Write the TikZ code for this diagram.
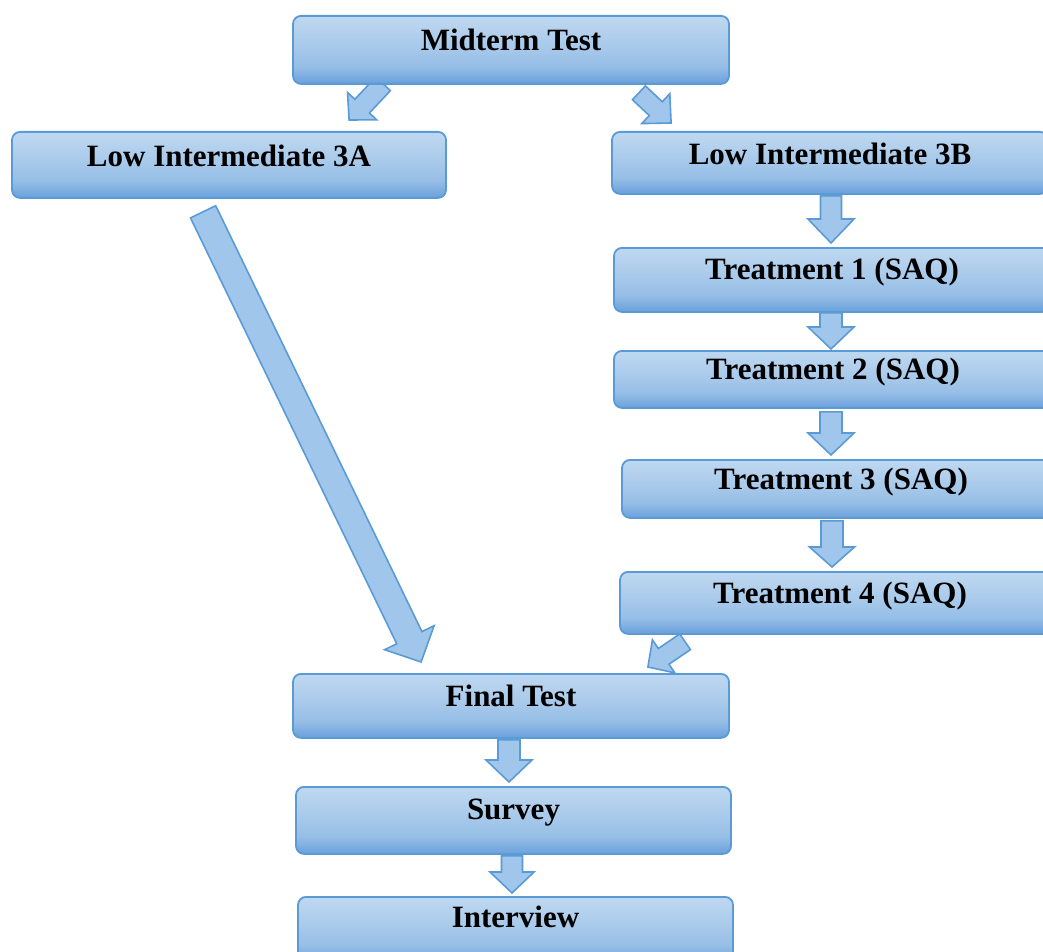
\documentclass[tikz,border=0pt]{standalone}
\usepackage{fontspec}
\setmainfont{Liberation Serif}
\usetikzlibrary{calc}
\pgfdeclarelayer{background}
\pgfsetlayers{background,main}
\definecolor{boxborder}{RGB}{91,155,213}
\definecolor{boxtop}{RGB}{190,216,240}
\definecolor{boxlight}{RGB}{174,205,236}
\definecolor{boxmid}{RGB}{150,190,230}
\definecolor{boxbot}{RGB}{105,160,220}
\definecolor{arrfill}{RGB}{160,198,236}
\pgfdeclareverticalshading{boxshade}{100bp}{color(0bp)=(boxbot); color(25bp)=(boxbot); color(38bp)=(boxmid); color(58bp)=(boxlight); color(75bp)=(boxtop); color(100bp)=(boxtop)}
\newcommand\blockarrow[5]{%
  \coordinate (bahead) at ($(#2)!#5!(#1)$);
  \draw[blockarr] ($(#1)!#3!90:(#2)$) -- ($(bahead)!#3!90:(#2)$) -- ($(bahead)!#4!90:(#2)$) -- (#2)
    -- ($(bahead)!#4!-90:(#2)$) -- ($(bahead)!#3!-90:(#2)$) -- ($(#1)!#3!-90:(#2)$) -- cycle;
}
\begin{document}
\begin{tikzpicture}[x=1pt,y=-1pt,
  box/.style={draw=boxborder, line width=1.8pt, rounded corners=8pt, shading=boxshade,
    inner sep=0pt, anchor=north, font=\bfseries\fontsize{31}{31}\selectfont},
  blockarr/.style={draw=boxborder, line width=1.6pt, fill=arrfill, line join=miter}]
\useasboundingbox (0,0) rectangle (1043,952);
\node[box, minimum width=436pt, text height=35pt, text depth=33pt] (mid) at (511,15) {Midterm Test};
\node[box, minimum width=434pt, text height=35pt, text depth=31pt] (a3) at (229,131) {Low Intermediate 3A};
\node[box, minimum width=436pt, text height=33pt, text depth=29pt] (b3) at (830,131) {Low Intermediate 3B};
\node[box, minimum width=436pt, text height=32pt, text depth=32pt] (t1) at (832,247) {Treatment 1 (SAQ)};
\node[box, minimum width=438pt, text height=29pt, text depth=28pt] (t2) at (833,350) {Treatment 2 (SAQ)};
\node[box, minimum width=438pt, text height=30pt, text depth=28pt] (t3) at (841,459) {Treatment 3 (SAQ)};
\node[box, minimum width=440pt, text height=32pt, text depth=30pt] (t4) at (840,571) {Treatment 4 (SAQ)};
\node[box, minimum width=436pt, text height=33pt, text depth=31pt] (fin) at (511,673) {Final Test};
\node[box, minimum width=435pt, text height=33pt, text depth=34pt] (sur) at (513.5,786) {Survey};
\node[box, minimum width=435pt, text height=31pt, text depth=35pt] (int) at (515.5,896) {Interview};
% arrow ends, tied to the boxes
\coordinate (mA1) at ($(mid.south west)+(91,-1)$);
\coordinate (mA2) at ($(a3.north west)+(338,-11)$);
\coordinate (mB1) at ($(mid.south east)+(-91,8)$);
\coordinate (mB2) at ($(b3.north west)+(60,-8)$);
\coordinate (b1) at ($(b3.south)+(1,1)$);
\coordinate (b2) at ($(t1.north)+(-1,-4)$);
\coordinate (c1) at ($(t1.south)+(-1,0)$);
\coordinate (c2) at ($(t2.north)+(-2,-1)$);
\coordinate (d1) at ($(t2.south)+(-2,3)$);
\coordinate (d2) at ($(t3.north)+(-10,-4)$);
\coordinate (e1) at ($(t3.south)+(-9,2)$);
\coordinate (e2) at ($(t4.north)+(-8,-4)$);
\coordinate (g1) at ($(a3.south west)+(192,13)$);
\coordinate (g2) at ($(fin.north west)+(129,-11)$);
\coordinate (h1) at ($(t4.south west)+(66,7)$);
\coordinate (h2) at ($(fin.north east)+(-82,-6)$);
\coordinate (i1) at ($(fin.south)+(-2,1)$);
\coordinate (i2) at ($(sur.north)+(-4.5,-4)$);
\coordinate (j1) at ($(sur.south)+(-1.5,1)$);
\coordinate (j2) at ($(int.north)+(-3.5,-3)$);
\begin{pgfonlayer}{background}
\blockarrow{mA1}{mA2}{10pt}{20pt}{19pt}
\blockarrow{mB1}{mB2}{9.5pt}{20.5pt}{21pt}
\blockarrow{b1}{b2}{10.5pt}{23pt}{24pt}
\blockarrow{c1}{c2}{11pt}{23pt}{22pt}
\blockarrow{d1}{d2}{11pt}{23pt}{22pt}
\blockarrow{e1}{e2}{11pt}{22.5pt}{20pt}
\blockarrow{g1}{g2}{14pt}{27.5pt}{27pt}
\blockarrow{h1}{h2}{9.5pt}{20pt}{19pt}
\blockarrow{i1}{i2}{11pt}{23pt}{22pt}
\blockarrow{j1}{j2}{10.5pt}{22pt}{21pt}
\end{pgfonlayer}
\end{tikzpicture}
\end{document}
